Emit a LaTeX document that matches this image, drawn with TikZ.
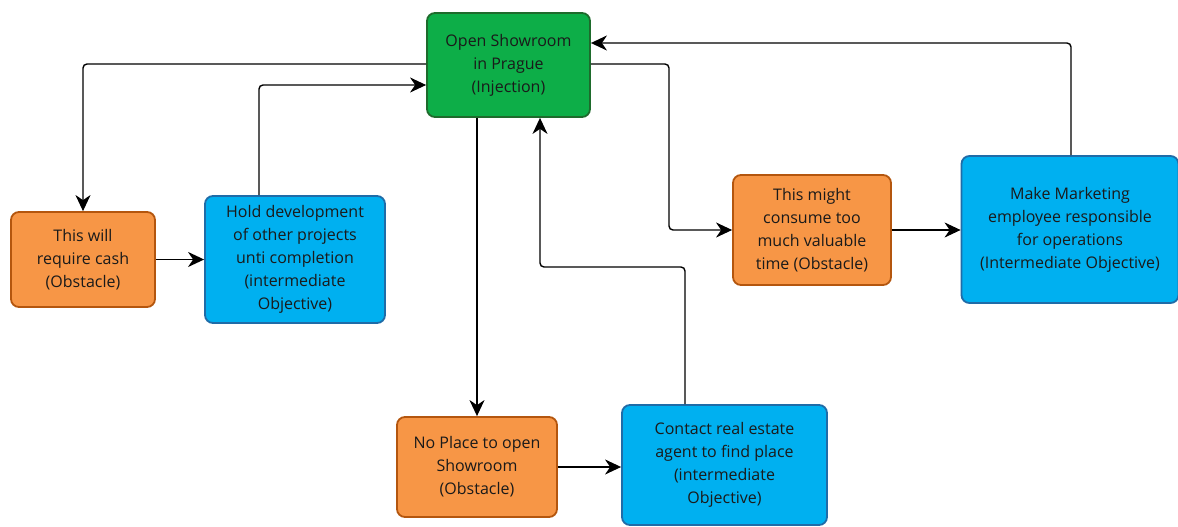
\documentclass[tikz,border=0pt]{standalone}
\usepackage{fontspec}
\setmainfont{Open Sans}
\usetikzlibrary{arrows.meta}
\definecolor{obsfill}{HTML}{F79646}
\definecolor{obsline}{HTML}{B4560E}
\definecolor{iofill}{HTML}{00B0F0}
\definecolor{ioline}{HTML}{1F6CA8}
\definecolor{injfill}{HTML}{0DAE48}
\definecolor{injline}{HTML}{1E6B2C}
\definecolor{txt}{HTML}{1A1A1A}
\tikzset{
  box/.style={draw, line width=1.8pt, rounded corners=8pt, align=center,
    inner sep=0pt, text=txt, font=\fontsize{16}{23}\selectfont},
  obstacle/.style={box, fill=obsfill, draw=obsline},
  objective/.style={box, fill=iofill, draw=ioline},
  injection/.style={box, fill=injfill, draw=injline},
  link/.style={line width=1.4pt, rounded corners=4pt,
    -{Stealth[length=16pt,width=15pt,inset=5pt]}},
}
\begin{document}
\begin{tikzpicture}[x=1pt,y=-1pt]
\useasboundingbox (0,0) rectangle (1178,527);
% boxes, sized by their corner points
\node[injection, minimum width=163pt, minimum height=104pt] (inj) at (508.5,65) {Open Showroom\\in Prague\\(Injection)};
\node[obstacle, minimum width=144pt, minimum height=95pt] (cash) at (83,259.5) {This will\\require cash\\(Obstacle)};
\node[objective, minimum width=180pt, minimum height=127pt] (hold) at (295,259.5) {Hold development\\of other projects\\unti completion\\(intermediate\\Objective)};
\node[obstacle, minimum width=158pt, minimum height=110pt] (time) at (812,230) {This might\\consume too\\much valuable\\time (Obstacle)};
\node[objective, minimum width=217pt, minimum height=147pt] (make) at (1070,229.5) {Make Marketing\\employee responsible\\for operations\\(Intermediate Objective)};
\node[obstacle, minimum width=160pt, minimum height=100pt] (noplace) at (477,467) {No Place to open\\Showroom\\(Obstacle)};
\node[objective, minimum width=205pt, minimum height=120pt] (contact) at (724.5,465) {Contact real estate\\agent to find place\\(intermediate\\Objective)};
% turning points of the connectors
\coordinate (c1) at (83,64);
\coordinate (c2) at (259,85);
\coordinate (c3) at (669,64);
\coordinate (c4) at (669,230);
\coordinate (c5) at (1071,43);
\coordinate (c6) at (685,267);
\coordinate (c7) at (540,267);
% connectors
\draw[link] (inj.west |- c1) -- (c1) -- (cash.north);
\draw[link] (hold.north -| c2) -- (c2) -- (inj.west |- c2);
\draw[link] (cash.east) -- (hold.west |- cash.east);
\draw[link] (inj.east |- c3) -- (c3) -- (c4) -- (time.west |- c4);
\draw[link] (time.east) -- (make.west |- time.east);
\draw[link] (make.north -| c5) -- (c5) -- (inj.east |- c5);
\draw[link] (inj.south -| noplace.north) -- (noplace.north);
\draw[link] (noplace.east) -- (contact.west |- noplace.east);
\draw[link] (contact.north -| c6) -- (c6) -- (c7) -- (inj.south -| c7);
\end{tikzpicture}
\end{document}
